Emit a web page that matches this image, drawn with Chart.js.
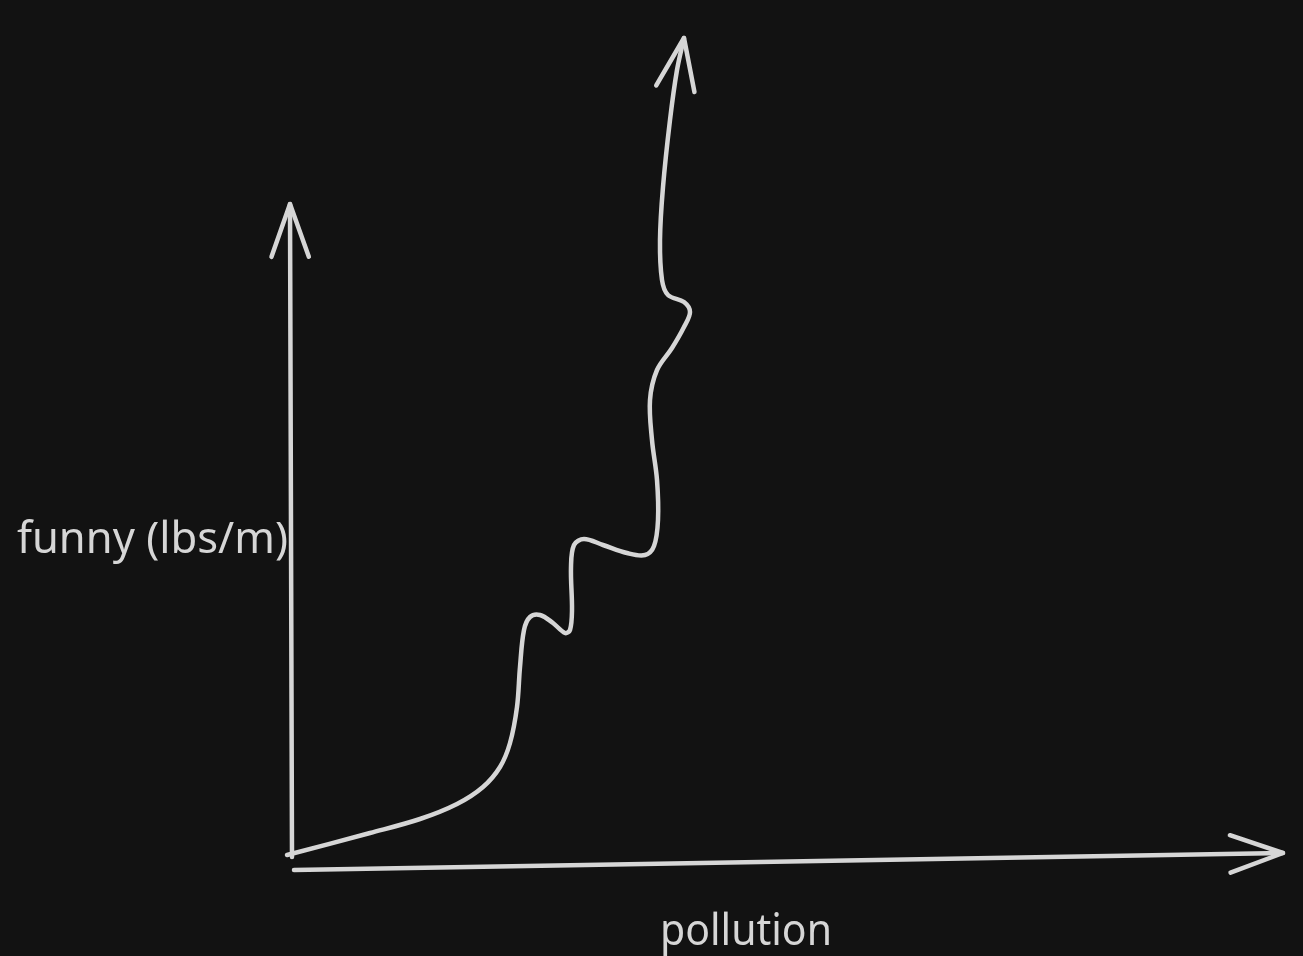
<!DOCTYPE html>
<html>
<head>
<meta charset="utf-8">
<script src="https://cdn.jsdelivr.net/npm/chart.js@4.4.1/dist/chart.umd.min.js"></script>
<style>
  html, body { margin: 0; padding: 0; background: #121212; }
  #wrap { width: 1303px; height: 956px; position: relative; }
</style>
</head>
<body>
<div id="wrap"><canvas id="sketch"></canvas></div>
<script>
// pollution (x) vs funny (y)
var pollution = [-0.5, 7.8, 12.8, 16.5, 19.1, 20.8, 21.8, 22.5, 22.8, 23.2, 23.8, 24.8, 26.1, 27.3, 27.8,
                 28.0, 27.9, 28.2, 29.2, 31.1, 33.5, 35.3, 36.2, 36.6, 36.5, 36.0, 35.8, 36.5, 38.0, 39.2,
                 39.8, 39.2, 37.6, 37.0, 36.8, 37.1, 37.8, 38.5, 39.2];
var funny = [0.7, 2.9, 4.3, 5.8, 7.5, 9.5, 11.9, 15.5, 19.5, 23.2, 24.5, 24.7, 23.9, 22.9, 23.2,
             25.2, 29.5, 31.7, 32.3, 31.7, 30.9, 30.7, 31.6, 34.2, 38.2, 42.2, 46.2, 49.2, 51.4, 53.5,
             55.0, 56.0, 56.7, 58.2, 62.2, 67.5, 74.2, 79.2, 82.4];

var xLabel = 'pollution';
var yLabel = 'funny (lbs/m)';
var ink = '#d6d6d6';

var points = pollution.map((x, i) => ({ x: x, y: funny[i] }));

function arrowHead(c, tx, ty, fx, fy, len, spread) {
    const a = Math.atan2(ty - fy, tx - fx);
    c.beginPath();
    c.moveTo(tx - len * Math.cos(a - spread), ty - len * Math.sin(a - spread));
    c.lineTo(tx, ty);
    c.lineTo(tx - len * Math.cos(a + spread), ty - len * Math.sin(a + spread));
    c.stroke();
}

const sketchPlugin = {
    id: 'sketch',
    beforeDraw(chart) {
        const c = chart.ctx;
        c.save();
        c.fillStyle = '#121212';
        c.fillRect(0, 0, chart.width, chart.height);
        c.restore();
    },
    afterDatasetsDraw(chart) {
        const c = chart.ctx;
        const sx = chart.scales.x, sy = chart.scales.y;
        const px = v => sx.getPixelForValue(v);
        const py = v => sy.getPixelForValue(v);
        c.save();
        c.strokeStyle = ink;
        c.lineWidth = 4.5;
        c.lineCap = 'round';
        c.lineJoin = 'round';

        // y axis
        c.beginPath();
        c.moveTo(px(0), py(0.5));
        c.lineTo(px(-0.2), py(65.8));
        c.stroke();
        arrowHead(c, px(-0.2), py(65.8), px(0), py(0.5), 56, 0.34);

        // x axis
        c.beginPath();
        c.moveTo(px(0.2), py(-0.8));
        c.lineTo(px(99.1), py(0.9));
        c.stroke();
        arrowHead(c, px(99.1), py(0.9), px(0.2), py(-0.8), 56, 0.34);

        // arrow at the end of the curve
        const n = points.length;
        arrowHead(c, px(points[n - 1].x), py(points[n - 1].y),
                  px(points[n - 3].x), py(points[n - 3].y), 55, 0.36);

        // labels
        c.fillStyle = ink;
        c.textBaseline = 'alphabetic';
        c.font = '44px "Noto Sans"';
        c.textAlign = 'left';
        c.fillText(yLabel, 17, 553, 271);
        c.fillText(xLabel, 660, 945, 172);
        c.restore();
    }
};

new Chart(document.getElementById('sketch'), {
    type: 'scatter',
    data: {
        datasets: [{
            data: points,
            showLine: true,
            borderColor: ink,
            borderWidth: 4.5,
            pointRadius: 0,
            tension: 0.35,
            borderCapStyle: 'round',
            borderJoinStyle: 'round'
        }]
    },
    options: {
        responsive: true,
        maintainAspectRatio: false,
        animation: false,
        layout: { padding: 0 },
        plugins: {
            legend: { display: false },
            tooltip: { enabled: false }
        },
        scales: {
            x: { type: 'linear', min: -29.2, max: 101.1, display: false },
            y: { type: 'linear', min: -9.4, max: 86.2, display: false }
        }
    },
    plugins: [sketchPlugin]
});
</script>
</body>
</html>
